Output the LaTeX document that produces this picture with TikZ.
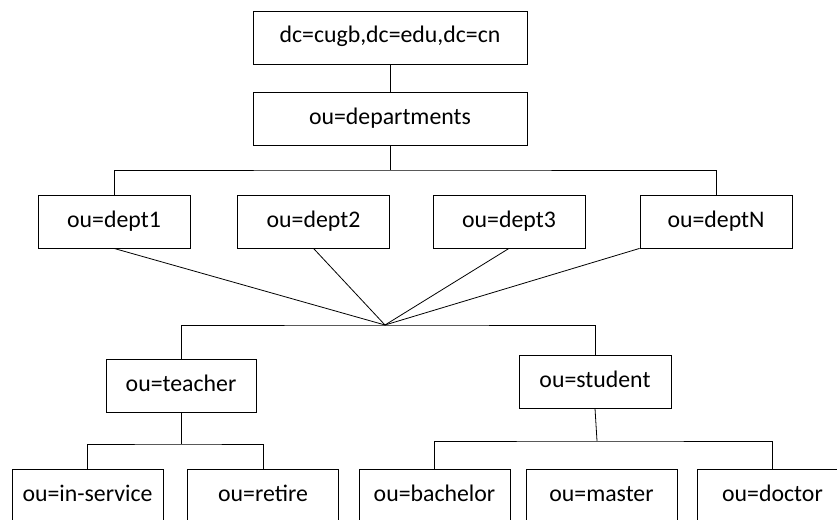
\documentclass[tikz,border=0pt]{standalone}
\usepackage{fontspec}
\setmainfont{Carlito}
\tikzset{
  entry/.style={draw, line width=0.8pt, minimum width=152pt, minimum height=53pt, inner sep=0pt, text height=16pt, text depth=5pt, font=\fontsize{23.8}{28}\selectfont},
  wide/.style={entry, minimum width=274pt},
  link/.style={line width=0.8pt}
}
\begin{document}
\begin{tikzpicture}[x=1pt,y=-1pt]
    \clip (0,0) rectangle (837,519);

    \node[wide] (root) at (390,37.5) {dc=cugb,dc=edu,dc=cn};
    \node[wide] (departments) at (390,118.5) {ou=departments};

    \node[entry] (dept1) at (114,221.5) {ou=dept1};
    \node[entry] (dept2) at (313.5,221.5) {ou=dept2};
    \node[entry] (dept3) at (509,221.5) {ou=dept3};
    \node[entry] (deptN) at (716,221.5) {ou=deptN};

    \node[entry, minimum width=150pt] (teacher) at (181,385.5) {ou=teacher};
    \node[entry] (student) at (595,381.5) {ou=student};

    \node[entry, minimum width=151pt] (inservice) at (87.5,495.5) {ou=in-service};
    \node[entry, minimum width=151pt] (retire) at (263,495.5) {ou=retire};
    \node[entry, minimum width=151pt] (bachelor) at (434.5,495.5) {ou=bachelor};
    \node[entry, minimum width=151pt] (master) at (601.5,495.5) {ou=master};
    \node[entry, minimum width=151pt] (doctor) at (772.5,495.5) {ou=doctor};

    \coordinate (deptbus) at (390,170);
    \coordinate (hub) at (385,325);
    \coordinate (tbus) at (181,444);
    \coordinate (sbus) at (597,441);

    \draw[link] (root) -- (departments);
    \draw[link] (departments) -- (deptbus);
    \draw[link] (dept1.north) |- (deptbus) -| (deptN.north);

    \draw[link] (dept1.south) -- (hub);
    \draw[link] (dept2.south) -- (hub);
    \draw[link] (dept3.south) -- (hub);
    \draw[link] (deptN.south west) -- (hub);
    \draw[link] (teacher.north) |- (hub) -| (student.north);

    \draw[link] (teacher.south) -- (tbus);
    \draw[link] (inservice.north) |- (tbus) -| (retire.north);
    \draw[link] (student.south) -- (sbus);
    \draw[link] (bachelor.north) |- (sbus) -| (doctor.north);
\end{tikzpicture}
\end{document}
